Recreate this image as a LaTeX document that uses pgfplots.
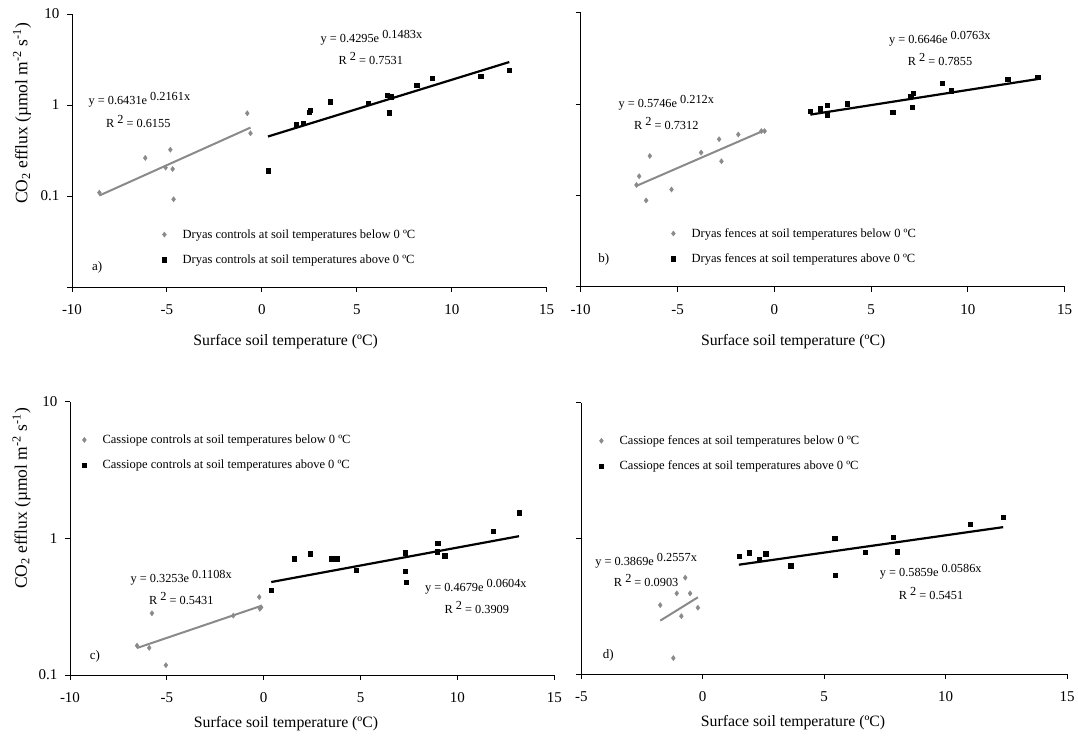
\documentclass[border=0pt]{standalone}
\usepackage{fontspec}
\setmainfont{Liberation Serif}
\usepackage{pgfplots}
\pgfplotsset{compat=1.18}
\definecolor{grayc}{HTML}{8A8A8A}
\newcommand{\tl}[1]{{\fontsize{15pt}{17pt}\selectfont #1}}
\pgfplotsset{
  every axis/.append style={
    scale only axis, axis lines*=left,
    axis line style={line width=0.9pt, black},
    tick align=outside, major tick length=5pt,
    tick style={black, line width=0.9pt},
    font=\fontsize{12.5pt}{15pt}\selectfont,
    clip=false,
    xlabel={Surface soil temperature (ºC)},
    xlabel style={font=\fontsize{15.8pt}{18pt}\selectfont},
    ylabel style={font=\fontsize{17.5pt}{20pt}\selectfont},
    xticklabel style={yshift=-9pt},
    yticklabel style={xshift=-4pt},
    legend cell align=left,
    legend style={draw=none, fill=none, inner sep=0pt, row sep=11pt,
      font=\fontsize{12.5pt}{15pt}\selectfont, anchor=west, xshift=-4pt},
  },
}
\tikzset{
  gpt/.style={only marks, mark=diamond*, mark size=2.6pt, color=grayc},
  bpt/.style={only marks, mark=square*, mark size=2.2pt, color=black},
  gline/.style={grayc, line width=2pt},
  bline/.style={black, line width=2.2pt},
  eq/.style={font=\fontsize{12.3pt}{14pt}\selectfont, anchor=base, inner sep=0pt},
}
\newcommand{\up}[1]{\raisebox{4pt}{#1}}
\begin{document}
\begin{tikzpicture}
\path[use as bounding box] (0,0) rectangle (1078pt,736pt);

% ---------------- a)
\begin{axis}[at={(72pt,449pt)}, anchor=south west,
  width=474.7pt, height=273pt, ymode=log, yminorticks=false,
  xmin=-10, xmax=15, ymin=0.01, ymax=10,
  xtick={-10,-5,0,5,10,15}, xticklabels={\tl{-10},\tl{-5},\tl{0},\tl{5},\tl{10},\tl{15}},
  ytick={0.01,0.1,1,10}, yticklabels={,\tl{0.1},\tl{1},\tl{10}},
  ylabel={CO\textsubscript{2} efflux (µmol m\textsuperscript{-2} s\textsuperscript{-1})},
  ylabel style={at={(axis description cs:-0.105,0.636)}, anchor=center},
  xlabel style={at={(axis description cs:0.450,0)}, anchor=center, yshift=-55pt},
  legend style={at={(axis description cs:0.1938,0.146)}},
  legend image code/.code={\path (-4pt,0pt) (16pt,0pt); \draw[#1] plot coordinates {(0pt,0pt)};},
]
\addplot[gpt] coordinates {(-8.56,0.109) (-6.14,0.262) (-4.82,0.323) (-5.07,0.205) (-4.70,0.198) (-4.65,0.092) (-0.77,0.811) (-0.60,0.489)};
\addlegendentry{Dryas controls at soil temperatures below 0 ºC}
\addplot[bpt] coordinates {(0.32,0.19) (1.81,0.608) (2.17,0.63) (2.48,0.83) (2.55,0.88) (3.61,1.09) (5.6,1.04) (6.6,1.29) (6.8,1.23) (6.71,0.82) (8.15,1.65) (8.98,1.96) (11.52,2.08) (13.03,2.40)};
\addlegendentry{Dryas controls at soil temperatures above 0 ºC}
\addplot[gline, forget plot] coordinates {(-8.56,0.1012) (-0.6,0.5649)};
\addplot[bline, forget plot] coordinates {(0.32,0.4504) (13.03,2.966)};
\node[eq] at (axis cs:5.77,4.84) {y = 0.4295e \up{0.1483x}};
\node[eq] at (axis cs:5.74,2.80) {R \up{2} = 0.7531};
\node[eq] at (axis cs:-6.45,1.018) {y = 0.6431e \up{0.2161x}};
\node[eq] at (axis cs:-6.51,0.564) {R \up{2} = 0.6155};
\node[eq,font=\fontsize{13pt}{15pt}\selectfont] at (axis cs:-8.67,0.0151) {a)};
\end{axis}

% ---------------- b)
\begin{axis}[at={(580.7pt,449.3pt)}, anchor=south west,
  width=484pt, height=274pt, ymode=log, yminorticks=false,
  xmin=-10, xmax=15, ymin=0.01, ymax=10,
  xtick={-10,-5,0,5,10,15}, xticklabels={\tl{-10},\tl{-5},\tl{0},\tl{5},\tl{10},\tl{15}},
  ytick={0.01,0.1,1,10}, yticklabels={,,,},
  xlabel style={at={(axis description cs:0.439,0)}, anchor=center, yshift=-55pt},
  legend style={at={(axis description cs:0.1907,0.148)}},
  legend image code/.code={\path (-4pt,0pt) (16pt,0pt); \draw[#1] plot coordinates {(0pt,0pt)};},
]
\addplot[gpt] coordinates {(-7.12,0.130) (-6.98,0.162) (-6.43,0.270) (-6.62,0.088) (-5.31,0.116) (-3.78,0.294) (-2.85,0.412) (-2.73,0.236) (-1.86,0.464) (-0.67,0.505) (-0.50,0.505)};
\addlegendentry{Dryas fences at soil temperatures below 0 ºC}
\addplot[bpt] coordinates {(1.86,0.838) (2.36,0.888) (2.74,0.975) (2.74,0.763) (3.78,1.01) (6.12,0.817) (7.04,1.22) (7.16,1.31) (7.11,0.92) (8.68,1.69) (9.14,1.40) (12.05,1.88) (13.6,1.96)};
\addlegendentry{Dryas fences at soil temperatures above 0 ºC}
\addplot[gline, forget plot] coordinates {(-7.12,0.1271) (-0.5,0.5168)};
\addplot[bline, forget plot] coordinates {(1.86,0.766) (13.6,1.876)};
\node[eq] at (axis cs:8.55,4.64) {y = 0.6646e \up{0.0763x}};
\node[eq] at (axis cs:8.56,2.64) {R \up{2} = 0.7855};
\node[eq] at (axis cs:-5.58,0.92) {y = 0.5746e \up{0.212x}};
\node[eq] at (axis cs:-5.58,0.523) {R \up{2} = 0.7312};
\node[eq,font=\fontsize{13pt}{15pt}\selectfont] at (axis cs:-8.81,0.0182) {b)};
\end{axis}

% ---------------- c)
\begin{axis}[at={(70pt,61pt)}, anchor=south west,
  width=484.3pt, height=273.3pt, ymode=log, yminorticks=false,
  xmin=-10, xmax=15, ymin=0.1, ymax=10,
  xtick={-10,-5,0,5,10,15}, xticklabels={\tl{-10},\tl{-5},\tl{0},\tl{5},\tl{10},\tl{15}},
  ytick={0.1,1,10}, yticklabels={\tl{0.1},\tl{1},\tl{10}},
  ylabel={CO\textsubscript{2} efflux (µmol m\textsuperscript{-2} s\textsuperscript{-1})},
  ylabel style={at={(axis description cs:-0.100,0.646)}, anchor=center},
  xlabel style={at={(axis description cs:0.446,0)}, anchor=center, yshift=-49pt},
  legend style={at={(axis description cs:0.0289,0.814)}},
  legend image code/.code={\path (-4pt,0pt) (16pt,0pt); \draw[#1] plot coordinates {(0pt,0pt)};},
]
\addplot[gpt] coordinates {(-6.54,0.164) (-5.91,0.158) (-5.77,0.283) (-5.05,0.118) (-1.57,0.272) (-0.23,0.372) (-0.13,0.313) (-0.2,0.305)};
\addlegendentry{Cassiope controls at soil temperatures below 0 ºC}
\addplot[bpt] coordinates {(0.39,0.417) (1.57,0.710) (2.4,0.772) (3.5,0.710) (3.79,0.710) (4.77,0.583) (7.29,0.785) (7.29,0.574) (7.36,0.477) (8.99,0.919) (8.94,0.798) (9.35,0.746) (11.84,1.125) (13.18,1.54)};
\addlegendentry{Cassiope controls at soil temperatures above 0 ºC}
\addplot[gline, forget plot] coordinates {(-6.54,0.1576) (-0.13,0.3206)};
\addplot[bline, forget plot] coordinates {(0.39,0.479) (13.18,1.0373)};
\node[eq] at (axis cs:-4.26,0.473) {y = 0.3253e \up{0.1108x}};
\node[eq] at (axis cs:-4.25,0.330) {R \up{2} = 0.5431};
\node[eq] at (axis cs:10.95,0.406) {y = 0.4679e \up{0.0604x}};
\node[eq] at (axis cs:11.0,0.283) {R \up{2} = 0.3909};
\node[eq,font=\fontsize{13pt}{15pt}\selectfont] at (axis cs:-8.71,0.130) {c)};
\end{axis}

% ---------------- d)
\begin{axis}[at={(581.3pt,62pt)}, anchor=south west,
  width=485.7pt, height=271.3pt, ymode=log, yminorticks=false,
  xmin=-5, xmax=15, ymin=0.1, ymax=10,
  xtick={-5,0,5,10,15}, xticklabels={\tl{-5},\tl{0},\tl{5},\tl{10},\tl{15}},
  ytick={0.1,1,10}, yticklabels={,,},
  xlabel style={at={(axis description cs:0.436,0)}, anchor=center, yshift=-49pt},
  legend style={at={(axis description cs:0.0406,0.813)}},
  legend image code/.code={\path (-4pt,0pt) (16pt,0pt); \draw[#1] plot coordinates {(0pt,0pt)};},
]
\addplot[gpt] coordinates {(-1.75,0.322) (-1.07,0.393) (-0.52,0.393) (-0.72,0.513) (-0.88,0.267) (-0.20,0.308) (-1.21,0.131)};
\addlegendentry{Cassiope fences at soil temperatures below 0 ºC}
\addplot[bpt] coordinates {(1.49,0.741) (1.92,0.783) (2.32,0.700) (2.60,0.770) (3.62,0.628) (5.43,1.0) (5.46,0.537) (6.69,0.793) (7.85,1.02) (8.0,0.796) (11.02,1.27) (12.37,1.43)};
\addlegendentry{Cassiope fences at soil temperatures above 0 ºC}
\addplot[gline, forget plot] coordinates {(-1.75,0.2473) (-0.2,0.3676)};
\addplot[bline, forget plot] coordinates {(1.49,0.6393) (12.37,1.2097)};
\node[eq] at (axis cs:-2.33,0.628) {y = 0.3869e \up{0.2557x}};
\node[eq] at (axis cs:-2.33,0.44) {R \up{2} = 0.0903};
\node[eq] at (axis cs:9.39,0.521) {y = 0.5859e \up{0.0586x}};
\node[eq] at (axis cs:9.4,0.357) {R \up{2} = 0.5451};
\node[eq,font=\fontsize{13pt}{15pt}\selectfont] at (axis cs:-3.89,0.130) {d)};
\end{axis}
\end{tikzpicture}
\end{document}
